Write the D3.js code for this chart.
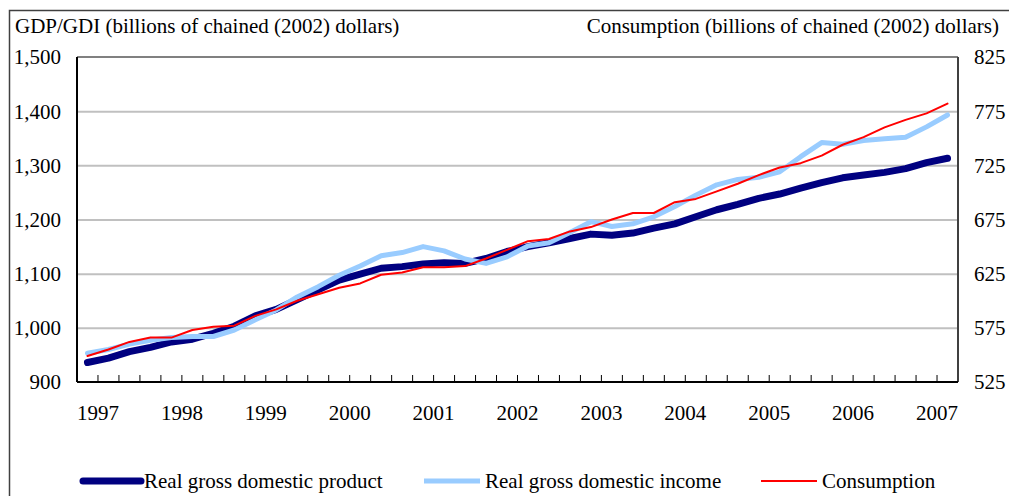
<!DOCTYPE html>
<html>
<head>
<meta charset="utf-8">
<script src="https://cdnjs.cloudflare.com/ajax/libs/d3/7.8.5/d3.min.js"></script>
<style>
  body { margin: 0; background: #fff; }
  text { font-family: "Liberation Serif", "Times New Roman", serif; fill: #000; }
</style>
</head>
<body>
<div id="chart"></div>
<script>
// quarterly categories, 1997Q1 .. 2007Q2
const quarters = [
    '1997Q1','1997Q2','1997Q3','1997Q4','1998Q1','1998Q2','1998Q3','1998Q4',
    '1999Q1','1999Q2','1999Q3','1999Q4','2000Q1','2000Q2','2000Q3','2000Q4',
    '2001Q1','2001Q2','2001Q3','2001Q4','2002Q1','2002Q2','2002Q3','2002Q4',
    '2003Q1','2003Q2','2003Q3','2003Q4','2004Q1','2004Q2','2004Q3','2004Q4',
    '2005Q1','2005Q2','2005Q3','2005Q4','2006Q1','2006Q2','2006Q3','2006Q4',
    '2007Q1','2007Q2'
]
const yearLabels = ['1997','1998','1999','2000','2001','2002','2003','2004','2005','2006','2007']

// billions of chained (2002) dollars
const gdp = [
    936, 944, 956, 964, 974, 979, 990, 1003, 1022, 1034, 1052,
    1070, 1088, 1099, 1110, 1113, 1118, 1120, 1119, 1128, 1141,
    1150, 1157, 1165, 1173, 1171, 1175, 1184, 1192, 1205, 1218,
    1228, 1239, 1247, 1258, 1268, 1277, 1282, 1287, 1294, 1305, 1313
]
const gdi = [
    953, 960, 970, 977, 982, 984, 984, 996, 1015, 1033, 1057,
    1076, 1097, 1114, 1133, 1139, 1150, 1142, 1127, 1119, 1131,
    1151, 1157, 1176, 1196, 1187, 1192, 1205, 1224, 1245, 1264,
    1274, 1278, 1288, 1316, 1342, 1339, 1346, 1349, 1352, 1371, 1393
]
const consumption = [
    549, 555, 562, 566, 566, 573, 576, 577, 586, 592, 600,
    606, 612, 616, 624, 626, 631, 631, 632, 639, 647,
    655, 657, 664, 668, 675, 681, 681, 691, 694, 701,
    708, 716, 723, 727, 734, 744, 751, 760, 767, 773, 782
]

const leftTicks = [900, 1000, 1100, 1200, 1300, 1400, 1500]
const rightTicks = [525, 575, 625, 675, 725, 775, 825]

const series = [
    { name: 'Real gross domestic product', values: gdp, axis: 'left', color: '#000080', width: 7 },
    { name: 'Real gross domestic income', values: gdi, axis: 'left', color: '#99ccff', width: 5 },
    { name: 'Consumption', values: consumption, axis: 'right', color: '#ff0000', width: 2 }
]

const W = 1009, H = 496
const plot = { left: 77, right: 958, top: 57, bottom: 382 }

const svg = d3.select('#chart')
    .append('svg')
    .attr('width', W)
    .attr('height', H)

// outer frame
svg.append('rect')
    .attr('x', 9.5).attr('y', 10.5)
    .attr('width', W).attr('height', H)
    .attr('fill', 'none')
    .attr('stroke', '#404040')
    .attr('stroke-width', 1.5)

////////// scales //////////
const xScale = d3.scaleBand()
    .domain(quarters)
    .range([plot.left, plot.right])
    .paddingInner(0).paddingOuter(0)

const yLeft = d3.scaleLinear()
    .domain([900, 1500])
    .range([plot.bottom, plot.top])

const yRight = d3.scaleLinear()
    .domain([525, 825])
    .range([plot.bottom, plot.top])

////////// grid //////////
svg.append('g')
    .attr('transform', `translate(${plot.left},0)`)
    .call(d3.axisLeft(yLeft).tickValues(leftTicks.slice(1, -1)).tickSize(-(plot.right - plot.left)).tickFormat(''))
    .call(g => g.select('.domain').remove())
    .call(g => g.selectAll('line').attr('stroke', '#c0c0c0').attr('stroke-width', 2))

// plot border (top)
svg.append('line')
    .attr('x1', plot.left).attr('x2', plot.right)
    .attr('y1', plot.top).attr('y2', plot.top)
    .attr('stroke', '#808080').attr('stroke-width', 2)

////////// lines //////////
const xPos = i => xScale(quarters[i]) + xScale.bandwidth() / 2

for (const s of series) {
    const y = s.axis == 'left' ? yLeft : yRight
    const line = d3.line()
        .x((d, i) => xPos(i))
        .y(d => y(d))
    svg.append('path')
        .datum(s.values)
        .attr('d', line)
        .attr('fill', 'none')
        .attr('stroke', s.color)
        .attr('stroke-width', s.width)
        .attr('stroke-linejoin', 'round')
        .attr('stroke-linecap', 'round')
}

////////// axes //////////
const axisColor = '#000'
svg.append('line')
    .attr('x1', plot.left).attr('x2', plot.left)
    .attr('y1', plot.top).attr('y2', plot.bottom)
    .attr('stroke', axisColor).attr('stroke-width', 2)
svg.append('line')
    .attr('x1', plot.right).attr('x2', plot.right)
    .attr('y1', plot.top).attr('y2', plot.bottom)
    .attr('stroke', '#404040').attr('stroke-width', 2)
svg.append('line')
    .attr('x1', plot.left).attr('x2', plot.right)
    .attr('y1', plot.bottom).attr('y2', plot.bottom)
    .attr('stroke', axisColor).attr('stroke-width', 2)

// x tick marks at category boundaries, pointing inward
svg.append('g')
    .selectAll('line')
    .data(quarters.slice(1))
    .join('line')
    .attr('x1', d => xScale(d)).attr('x2', d => xScale(d))
    .attr('y1', plot.bottom).attr('y2', plot.bottom - 7)
    .attr('stroke', axisColor).attr('stroke-width', 1)

// year labels sit on the boundary after each year's first quarter
svg.append('g')
    .selectAll('text')
    .data(yearLabels)
    .join('text')
    .attr('x', d => xScale(d + 'Q2'))
    .attr('y', 420)
    .attr('text-anchor', 'middle')
    .attr('font-size', 21)
    .text(d => d)

const fmt = d3.format(',')
svg.append('g')
    .selectAll('text')
    .data(leftTicks)
    .join('text')
    .attr('x', 61)
    .attr('y', d => yLeft(d))
    .attr('dy', '0.35em')
    .attr('text-anchor', 'end')
    .attr('font-size', 21)
    .text(d => fmt(d))

svg.append('g')
    .selectAll('text')
    .data(rightTicks)
    .join('text')
    .attr('x', 974)
    .attr('y', d => yRight(d))
    .attr('dy', '0.35em')
    .attr('text-anchor', 'start')
    .attr('font-size', 21)
    .text(d => d)

// axis titles
svg.append('text')
    .attr('x', 15).attr('y', 33)
    .attr('font-size', 21)
    .text('GDP/GDI (billions of chained (2002) dollars)')

svg.append('text')
    .attr('x', 999).attr('y', 33)
    .attr('text-anchor', 'end')
    .attr('font-size', 21)
    .text('Consumption (billions of chained (2002) dollars)')

////////// legend //////////
const legendX = [83, 424, 761]
const legend = svg.append('g')
    .selectAll('g')
    .data(series)
    .join('g')
    .attr('transform', (d, i) => `translate(${legendX[i]},481)`)

legend.append('line')
    .attr('x1', 0).attr('x2', d => d.width > 5 ? 58 : 56)
    .attr('y1', 0).attr('y2', 0)
    .attr('stroke', d => d.color)
    .attr('stroke-width', d => d.width)
    .attr('stroke-linecap', d => d.width > 5 ? 'round' : 'butt')

legend.append('text')
    .attr('x', 61)
    .attr('y', 0)
    .attr('dy', '0.35em')
    .attr('font-size', 21)
    .text(d => d.name)
</script>
</body>
</html>
